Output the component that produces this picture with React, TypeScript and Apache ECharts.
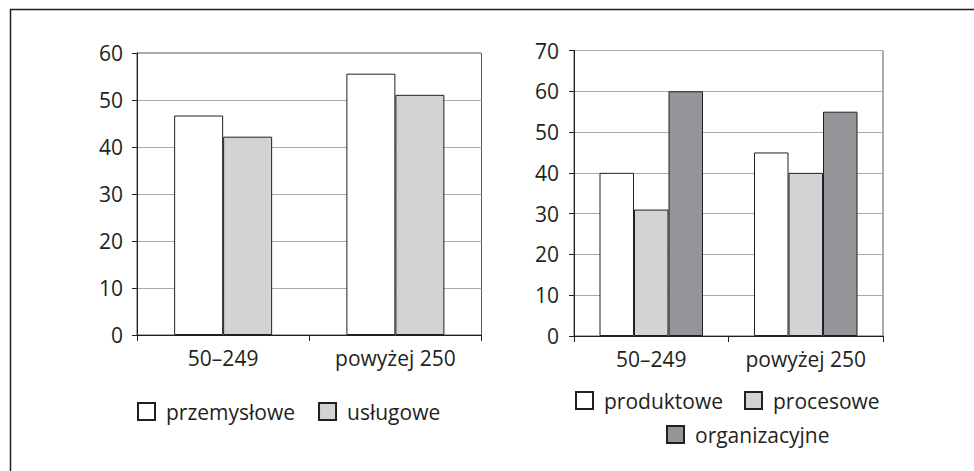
import React, { useEffect, useRef } from "react";
import * as echarts from "echarts";

// Company size classes shared by both panels
const CATEGORIES = ["50–249", "powyżej 250"];

// Left panel: share of innovative enterprises by sector (%)
const LEFT_NAMES = ["przemysłowe", "usługowe"];
const przemyslowe = [46.7, 55.6];
const uslugowe = [42.2, 51.1];
const LEFT_MAX = 60;

// Right panel: share by innovation type (%)
const RIGHT_NAMES = ["produktowe", "procesowe", "organizacyjne"];
const produktowe = [40, 45];
const procesowe = [31, 40];
const organizacyjne = [60, 55];
const RIGHT_MAX = 70;

const TICK_STEP = 10;

const INK = "#231f20";
const WHITE = "#ffffff";
const LIGHT = "#d1d3d4";
const DARK = "#939598";
const GRIDLINE = "#a7a9ac";
const FONT = "'Open Sans', 'Noto Sans', sans-serif";
const FS = 21;

const barStyle = (color: string) => ({
  color,
  borderColor: INK,
  borderWidth: 1,
});

const xAxisFor = (gridIndex: number) => ({
  type: "category" as const,
  gridIndex,
  data: CATEGORIES,
  boundaryGap: true,
  axisLine: { show: true, lineStyle: { color: INK, width: 1 } },
  axisTick: { show: true, length: 6, lineStyle: { color: INK, width: 1 } },
  axisLabel: {
    color: INK,
    fontSize: FS,
    fontFamily: FONT,
    margin: 12,
    interval: 0,
    hideOverlap: false,
  },
  splitLine: { show: false },
});

const yAxisFor = (gridIndex: number, max: number, margin: number) => ({
  type: "value" as const,
  gridIndex,
  min: 0,
  max,
  interval: TICK_STEP,
  axisLine: { show: true, lineStyle: { color: INK, width: 1 } },
  axisTick: { show: true, length: 5, lineStyle: { color: INK, width: 1 } },
  axisLabel: { color: INK, fontSize: FS, fontFamily: FONT, margin },
  splitLine: { show: true, lineStyle: { color: GRIDLINE, width: 1 } },
});

const legendText = {
  color: INK,
  fontSize: FS,
  fontFamily: FONT,
  padding: [0, 0, 0, 6],
};

const legendBase = {
  orient: "horizontal" as const,
  icon: "rect",
  itemWidth: 17,
  itemHeight: 17,
  padding: 0,
  textStyle: legendText,
  selectedMode: false,
};

export default function App() {
  const ref = useRef<HTMLDivElement>(null);

  useEffect(() => {
    if (!ref.current) return;
    const chart = echarts.init(ref.current, null, { renderer: "svg" });

    const option = {
      animation: false,
      backgroundColor: "#ffffff",
      textStyle: { fontFamily: FONT },
      grid: [
        {
          left: 137,
          top: 53,
          width: 344.5,
          height: 282,
          show: true,
          borderColor: "#58595b",
          borderWidth: 1,
          backgroundColor: "transparent",
        },
        {
          left: 574,
          top: 50.5,
          width: 309,
          height: 285.5,
          show: true,
          borderColor: "#58595b",
          borderWidth: 1,
          backgroundColor: "transparent",
        },
      ],
      xAxis: [xAxisFor(0), xAxisFor(1)],
      yAxis: [yAxisFor(0, LEFT_MAX, 14), yAxisFor(1, RIGHT_MAX, 15)],
      legend: [
        { ...legendBase, data: LEFT_NAMES, left: 137, top: 401, itemGap: 23 },
        { ...legendBase, data: RIGHT_NAMES.slice(0, 2), left: 575, top: 390, itemGap: 21 },
        { ...legendBase, data: RIGHT_NAMES.slice(2), left: 666, top: 424 },
      ],
      series: [
        {
          name: LEFT_NAMES[0],
          type: "bar",
          xAxisIndex: 0,
          yAxisIndex: 0,
          data: przemyslowe,
          barWidth: 49,
          barGap: "0%",
          itemStyle: barStyle(WHITE),
        },
        {
          name: LEFT_NAMES[1],
          type: "bar",
          xAxisIndex: 0,
          yAxisIndex: 0,
          data: uslugowe,
          barWidth: 49,
          barGap: "0%",
          itemStyle: barStyle(LIGHT),
        },
        {
          name: RIGHT_NAMES[0],
          type: "bar",
          xAxisIndex: 1,
          yAxisIndex: 1,
          data: produktowe,
          barWidth: 34.5,
          barGap: "0%",
          itemStyle: barStyle(WHITE),
        },
        {
          name: RIGHT_NAMES[1],
          type: "bar",
          xAxisIndex: 1,
          yAxisIndex: 1,
          data: procesowe,
          barWidth: 34.5,
          barGap: "0%",
          itemStyle: barStyle(LIGHT),
        },
        {
          name: RIGHT_NAMES[2],
          type: "bar",
          xAxisIndex: 1,
          yAxisIndex: 1,
          data: organizacyjne,
          barWidth: 34.5,
          barGap: "0%",
          itemStyle: barStyle(DARK),
        },
      ],
      graphic: [
        // outer frame: top and left edges
        {
          type: "line",
          shape: { x1: 10, y1: 9.5, x2: 974, y2: 9.5 },
          style: { stroke: INK, lineWidth: 1.5 },
        },
        {
          type: "line",
          shape: { x1: 10.5, y1: 9, x2: 10.5, y2: 471 },
          style: { stroke: INK, lineWidth: 1.5 },
        },
      ],
    };

    chart.setOption(option as any);
    return () => chart.dispose();
  }, []);

  return (
    <div
      ref={ref}
      style={{
        position: "fixed",
        left: 0,
        top: 0,
        width: 974,
        height: 471,
        background: "#ffffff",
      }}
    />
  );
}
